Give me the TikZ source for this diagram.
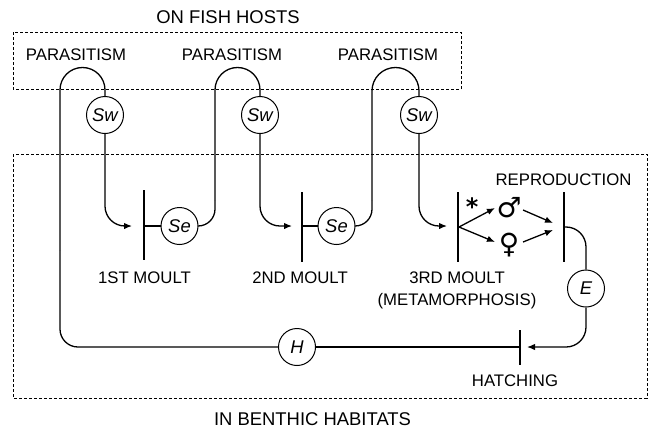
\documentclass[tikz,border=0pt]{standalone}
\usepackage{fontspec}
\setmainfont{Liberation Sans}
\newfontfamily\symfont{DejaVu Sans}
\usetikzlibrary{arrows.meta}
\begin{document}
\begin{tikzpicture}[x=1bp,y=-1bp,
  conn/.style={line width=1.3bp},
  arr/.style={conn,-{Latex[length=8bp,width=6.5bp]}},
  circ/.style={circle,draw,line width=1bp,minimum size=37bp,inner sep=0pt,fill=white,
    font=\fontsize{18.5}{20}\selectfont\itshape},
  barline/.style={line width=1.4bp},
  lbl/.style={font=\fontsize{16.8}{20}\selectfont,anchor=base,inner sep=0pt},
  ttl/.style={font=\fontsize{18.5}{22}\selectfont,anchor=base,inner sep=0pt},
  region/.style={line width=0.9bp,dash pattern=on 3bp off 2bp},
  sym/.style={font=\symfont\bfseries\fontsize{28}{28}\selectfont,inner sep=0pt}
]
\useasboundingbox (0,0) rectangle (651,431);

% regions
\draw[region] (13,32) rectangle (461,89);
\draw[region] (13,154) rectangle (647,398);
\node[ttl] (thosts) at (228,23) {ON FISH HOSTS};
\node[ttl] (tbenth) at (312.5,425) {IN BENTHIC HABITATS};

% circles
\node[circ] (sw1) at (105,115) {Sw};
\node[circ] (sw2) at (260,115) {Sw};
\node[circ] (sw3) at (419,115) {Sw};
\node[circ] (se1) at (179.5,226) {Se};
\node[circ] (se2) at (336.5,226) {Se};
\node[circ] (E) at (586,288.5) {E};
\node[circ] (H) at (297,347) {H};

% bars
\coordinate (b1t) at (144,190); \coordinate (b1b) at (144,260); \coordinate (b1m) at (144,226);
\coordinate (b2t) at (302,192); \coordinate (b2b) at (302,262); \coordinate (b2m) at (302,226);
\coordinate (b3t) at (458,192); \coordinate (b3b) at (458,262);
\coordinate (b4t) at (564,192); \coordinate (b4b) at (564,262); \coordinate (b4m) at (564,227);
\coordinate (bht) at (520,330); \coordinate (bhb) at (520,365); \coordinate (bhm) at (520,347);
\draw[barline] (b1t) -- (b1b);
\draw[barline] (b2t) -- (b2b);
\draw[barline] (b3t) -- (b3b);
\draw[barline] (b4t) -- (b4b);
\draw[barline] (bht) -- (bhb);

% arrow targets and loop points
\coordinate (a1) at (132,226);
\coordinate (a2) at (292,226);
\coordinate (a3) at (447,226);
\coordinate (ah) at (527,347);
\coordinate (l1b) at (60,250);
\coordinate (l2b) at (215,200);
\coordinate (l3b) at (372,200);

% loop 1 (hatching -> parasitism -> 1st moult)
\draw[conn] (bhm) -- (H.east);
\draw[conn,rounded corners=18] (H.west) -| (l1b);
\draw[conn,rounded corners=22.5] (l1b) -- (60,67.5) -- (105,67.5) -- (sw1.north);
\draw[arr,rounded corners=20] (sw1.south) |- (a1);

% loop 2
\draw[conn] (b1m) -- (se1.west);
\draw[conn,rounded corners=17] (se1.east) -| (l2b);
\draw[conn,rounded corners=22.5] (l2b) -- (215,67.5) -- (260,67.5) -- (sw2.north);
\draw[arr,rounded corners=20] (sw2.south) |- (a2);

% loop 3
\draw[conn] (b2m) -- (se2.west);
\draw[conn,rounded corners=17] (se2.east) -| (l3b);
\draw[conn,rounded corners=23.5] (l3b) -- (372,67.5) -- (419,67.5) -- (sw3.north);
\draw[arr,rounded corners=20] (sw3.south) |- (a3);

% metamorphosis and reproduction
\coordinate (fork) at (459,227);
\coordinate (mi) at (495,208);
\coordinate (fi) at (495,242);
\coordinate (mo) at (523,210);
\coordinate (fo) at (523,242);
\coordinate (r1) at (553,223);
\coordinate (r2) at (553,230);
\node[font=\symfont\bfseries\fontsize{24}{24}\selectfont,inner sep=0pt] (star) at (472,207) {*};
\node[sym] (male) at (509,208) {♂};
\node[sym] (female) at (509,245) {♀};
\draw[arr] (fork) -- (mi);
\draw[arr] (fork) -- (fi);
\draw[arr] (mo) -- (r1);
\draw[arr] (fo) -- (r2);

% egg and hatching
\draw[conn,rounded corners=20] (b4m) -| (E.north);
\draw[arr,rounded corners=20] (E.south) |- (ah);

% labels
\node[lbl] (p1) at (76,60) {PARASITISM};
\node[lbl] (p2) at (232,60) {PARASITISM};
\node[lbl] (p3) at (388,60) {PARASITISM};
\node[lbl] (repro) at (563.5,185) {REPRODUCTION};
\node[lbl] (m1) at (144.5,283) {1ST MOULT};
\node[lbl] (m2) at (300,283) {2ND MOULT};
\node[lbl] (m3) at (457,283) {3RD MOULT};
\node[lbl] (meta) at (457,305) {(METAMORPHOSIS)};
\node[lbl] (hatch) at (515,386) {HATCHING};
\end{tikzpicture}
\end{document}
